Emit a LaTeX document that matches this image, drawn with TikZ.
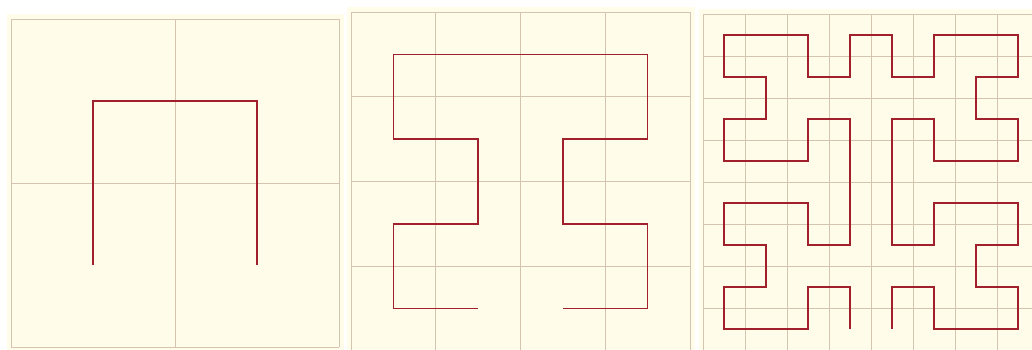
\documentclass[tikz,border=0pt]{standalone}
\usepackage{xcolor}
\definecolor{paper}{RGB}{255,253,233}
\definecolor{rulebrown}{RGB}{212,196,176}
\definecolor{curvered}{RGB}{160,32,44}

\begin{document}
\begin{tikzpicture}[x=1pt,y=1pt,
  panel/.style={fill=paper,draw=none},
  gridline/.style={draw=rulebrown,line width=0.9pt},
  hilbert/.style={draw=curvered,line width=1.5pt}
]
\useasboundingbox (0,0) rectangle (1032,349);

% order 1
\fill[panel] (6.5,-2.5) rectangle (343.5,334.5);
\begin{scope}[shift={(11pt,2pt)},x=164pt,y=164pt]
\draw[gridline] (0,0) grid[step=1] (2,2);
\draw[hilbert,shift={(0.5,0.5)}] (0,0) -- (0,1) -- (1,1) -- (1,0);
\end{scope}

% order 2
\fill[panel] (346.5,-6) rectangle (694.5,341.5);
\begin{scope}[shift={(351pt,-2pt)},x=84.75pt,y=84.75pt]
\draw[gridline] (0,0) grid[step=1] (4,4);
\draw[hilbert,shift={(0.5,0.5)}] (1,0) -- (0,0) -- (0,1) -- (1,1) -- (1,2)
  -- (0,2) -- (0,3) -- (3,3) -- (3,2) -- (2,2) -- (2,1) -- (3,1) -- (3,0)
  -- (2,0);
\end{scope}

% order 3
\fill[panel] (698.5,-5) rectangle (1043,339.5);
\begin{scope}[shift={(703pt,-1pt)},x=42pt,y=42pt]
\draw[gridline] (0,0) grid[step=1] (8,8);
\draw[hilbert,shift={(0.5,0.5)}] (3,0) -- (3,1) -- (2,1) -- (2,0) -- (0,0)
  -- (0,1) -- (1,1) -- (1,2) -- (0,2) -- (0,3) -- (2,3) -- (2,2) -- (3,2)
  -- (3,5) -- (2,5) -- (2,4) -- (0,4) -- (0,5) -- (1,5) -- (1,6) -- (0,6)
  -- (0,7) -- (2,7) -- (2,6) -- (3,6) -- (3,7) -- (4,7) -- (4,6) -- (5,6)
  -- (5,7) -- (7,7) -- (7,6) -- (6,6) -- (6,5) -- (7,5) -- (7,4) -- (5,4)
  -- (5,5) -- (4,5) -- (4,2) -- (5,2) -- (5,3) -- (7,3) -- (7,2) -- (6,2)
  -- (6,1) -- (7,1) -- (7,0) -- (5,0) -- (5,1) -- (4,1) -- (4,0);
\end{scope}
\end{tikzpicture}
\end{document}
